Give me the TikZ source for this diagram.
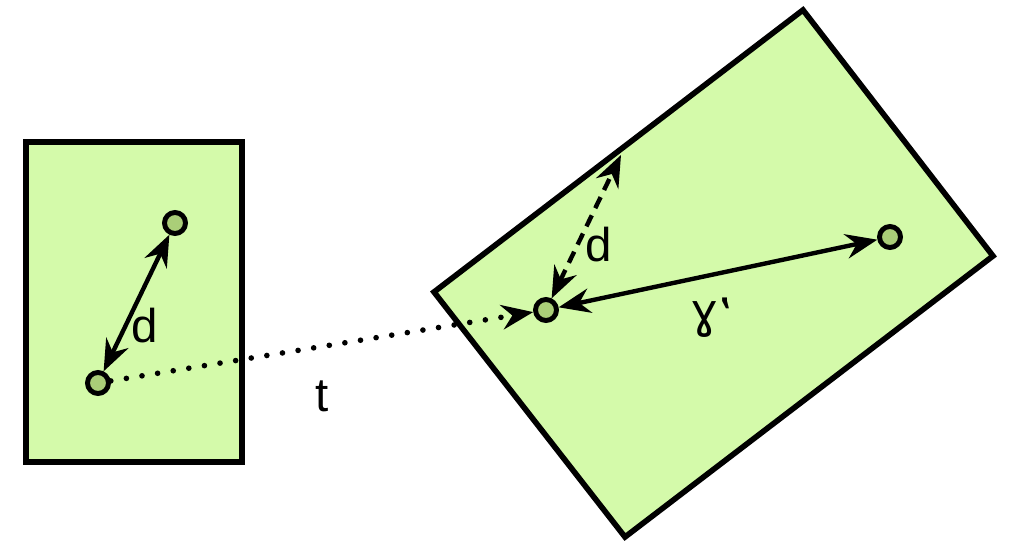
\documentclass[tikz,border=0pt]{standalone}
\usepackage{fontspec}
\setmainfont{Liberation Sans}
\newfontfamily\dejavu{DejaVu Sans}
\usetikzlibrary{arrows.meta,positioning,calc}
\definecolor{boxgreen}{RGB}{212,250,170}
\definecolor{dotgreen}{RGB}{170,206,120}

\begin{document}
\begin{tikzpicture}[x=0.02cm, y=-0.02cm, font=\fontsize{27}{32}\selectfont,
  frame/.style={draw, line width=3.2pt, fill=boxgreen, line join=miter},
  pt/.style={circle, draw, line width=2.8pt, fill=dotgreen, minimum size=0.42cm, inner sep=0pt},
  link/.style={line width=2.5pt, {Stealth[length=18pt,width=14pt,inset=6pt]}-{Stealth[length=18pt,width=14pt,inset=6pt]}}]
\useasboundingbox (0,0) rectangle (1009,541);

% frames
\draw[frame] (26,142) rectangle (242,462);
\draw[frame] (434,292) -- (803,10) -- (993,256) -- (625,537) -- cycle;

% points
\node[pt] (p1) at (175,223) {};
\node[pt] (p0) at (98,383) {};
\node[pt] (q0) at (546,310) {};
\node[pt] (q1) at (890,237) {};
\coordinate (edge) at (621,155);

% distances
\draw[link] (p0) -- (p1);
\node (d1) at (145,326) {d};
\draw[link, dash pattern=on 7pt off 4.5pt] (q0) -- (edge);
\node (d2) at (599,245) {d};
\draw[link] (q0) -- (q1);
\node (d3) at (712,318) {\dejavu ɣ\raisebox{-3pt}{‛}};

% translation
\draw[line width=3.2pt, line cap=round, dash pattern=on 0pt off 9pt,
  -{Stealth[length=18pt,width=14pt,inset=6pt,line cap=butt]}] (p0) -- (q0);
\node (t) at (322,396) {t};
\end{tikzpicture}
\end{document}
